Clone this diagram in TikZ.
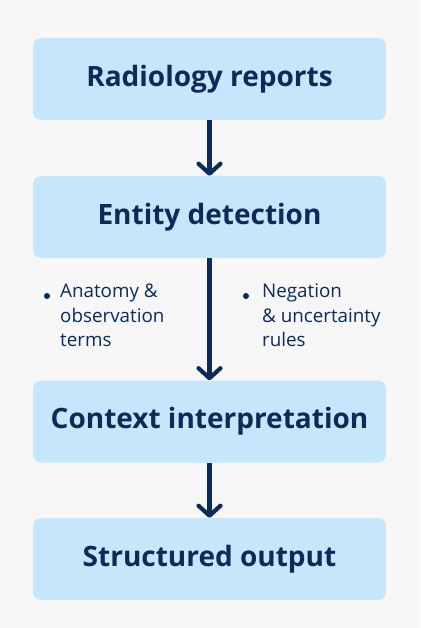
\documentclass[tikz,border=0pt]{standalone}
\usepackage{fontspec}
\setmainfont{Open Sans}
\usetikzlibrary{arrows.meta,positioning}

\definecolor{boxfill}{HTML}{C5E6FB}
\definecolor{navy}{HTML}{0C2B57}
\definecolor{pagebg}{HTML}{F7F7F7}

\begin{document}
\begin{tikzpicture}[
  x=1pt, y=-1pt,
  >={Straight Barb[length=10pt, width=22pt, line cap=round, line join=round]},
  stage/.style={fill=boxfill, rounded corners=8pt, minimum width=353pt,
                minimum height=82pt, inner sep=0pt, text=navy,
                font=\fontsize{28}{32}\selectfont\bfseries},
  arr/.style={->, line width=4.2pt, draw=navy},
  dot/.style={circle, fill=navy, inner sep=0pt, minimum size=6pt},
  note/.style={text=navy, anchor=north west, align=left, inner sep=0pt,
               font=\fontsize{18.8}{24.5}\selectfont},
]
  \fill[pagebg] (0,0) rectangle (420,628);
  \useasboundingbox (0,0) rectangle (420,628);

  \node[stage] (rep) at (209.5, 79)  {Radiology reports};
  \node[stage] (ent) at (209.5, 217) {Entity detection};
  \node[stage] (ctx) at (209.5, 421.5) {Context interpretation};
  \node[stage] (out) at (209.5, 559) {Structured output};

  \draw[arr] (rep) -- (ent);
  \draw[arr] (ent) -- (ctx);
  \draw[arr] (ctx) -- (out);

  % side notes on the long link
  \node[dot]  (d1) at (47, 296) {};
  \node[note] (n1) at (60, 284) {Anatomy \&\\observation\\terms};
  \node[dot]  (d2) at (246, 296) {};
  \node[note] (n2) at (262, 284) {Negation\\\& uncertainty\\rules};
\end{tikzpicture}
\end{document}
